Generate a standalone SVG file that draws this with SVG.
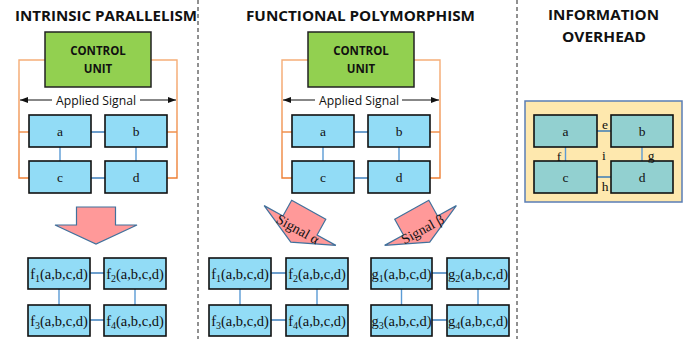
<svg xmlns="http://www.w3.org/2000/svg" width="699" height="339" viewBox="0 0 699 339">
<style>
  .title{font-family:"Open Sans","Liberation Sans",sans-serif;font-weight:700;font-size:15px;fill:#111;text-anchor:middle}
  .cu rect{fill:#92D050;stroke:#222;stroke-width:1.5}
  .cu text{font-family:"Open Sans","Liberation Sans",sans-serif;font-weight:700;font-size:11.5px;fill:#111;text-anchor:middle}
  .node rect{fill:#92DCF6;stroke:#111;stroke-width:1.6}
  .tnode rect{fill:#92D0D0;stroke:#111;stroke-width:1.6}
  .lbl{font-family:"Liberation Serif","Times New Roman",serif;font-size:13.5px;fill:#111;text-anchor:middle}
  .fn{font-family:"Liberation Serif","Times New Roman",serif;font-size:14.5px;fill:#111;text-anchor:middle}
  .sub{font-size:10px}
  .sig{font-family:"Open Sans","Liberation Sans",sans-serif;font-size:12.5px;fill:#111;text-anchor:middle}
  .hc{stroke:#2E75B6;stroke-width:1.4;fill:none}
  .vc{stroke:#5B9BD5;stroke-width:1.4;fill:none}
  .orange{stroke:url(#og);stroke-width:1.4;fill:none}
  .aline{stroke:#111;stroke-width:1;fill:none;marker-end:url(#ah)}
  .dash{stroke:#222;stroke-width:1;stroke-dasharray:4 3}
  .bigarrow use{fill:#FF9999;stroke:#41719C;stroke-width:1.2}
  .sigtxt{font-family:"Liberation Serif","Times New Roman",serif;font-size:14px;fill:#111;text-anchor:middle}
</style>
<defs>
  <linearGradient id="og" gradientUnits="userSpaceOnUse" x1="0" y1="60" x2="0" y2="180">
    <stop offset="0" stop-color="#F5AE78"/>
    <stop offset="1" stop-color="#ED7D31"/>
  </linearGradient>
  <marker id="ah" viewBox="0 0 8 6" refX="8" refY="3" markerWidth="8" markerHeight="6" markerUnits="userSpaceOnUse" orient="auto">
    <path d="M0,0 L8,3 L0,6 Z" fill="#111"/>
  </marker>
  <path id="darrow" d="M-19.5,-18 H19.5 V0 H41 L0,19 L-41,0 H-19.5 Z"/>
</defs>
<rect width="699" height="339" fill="#fff"/>

<!-- separators -->
<line class="dash" x1="198" y1="0" x2="198" y2="339"/>
<line class="dash" x1="517" y1="0" x2="517" y2="339"/>

<!-- titles -->
<text class="title" x="106" y="21" textLength="182" lengthAdjust="spacingAndGlyphs">INTRINSIC PARALLELISM</text>
<text class="title" x="360.5" y="21" textLength="229" lengthAdjust="spacingAndGlyphs">FUNCTIONAL POLYMORPHISM</text>
<text class="title" x="603.5" y="20" textLength="111" lengthAdjust="spacingAndGlyphs">INFORMATION</text>
<text class="title" x="604" y="42" textLength="84" lengthAdjust="spacingAndGlyphs">OVERHEAD</text>

<!-- connectors -->
<g id="connectors">
  <path class="orange" d="M45,60 H19 V178 H29 M19,132 H29 M151,60 H177 V178 H167 M177,132 H167"/>
  <path class="orange" d="M308,60 H282 V178 H292 M282,132 H292 M414,60 H440 V178 H430 M440,132 H430"/>
  <line class="aline" x1="52" y1="100" x2="20" y2="100"/>
  <line class="aline" x1="140" y1="100" x2="176" y2="100"/>
  <line class="aline" x1="315" y1="100" x2="283" y2="100"/>
  <line class="aline" x1="402" y1="100" x2="439" y2="100"/>
  <line class="hc" x1="91" y1="132" x2="105" y2="132"/>
  <line class="hc" x1="91" y1="178" x2="105" y2="178"/>
  <line class="vc" x1="60" y1="147" x2="60" y2="161"/>
  <line class="vc" x1="136" y1="147" x2="136" y2="161"/>
  <line class="hc" x1="354" y1="132" x2="368" y2="132"/>
  <line class="hc" x1="354" y1="178" x2="368" y2="178"/>
  <line class="vc" x1="323" y1="147" x2="323" y2="161"/>
  <line class="vc" x1="399" y1="147" x2="399" y2="161"/>
  <line class="hc" x1="90" y1="273" x2="104" y2="273"/>
  <line class="hc" x1="90" y1="320" x2="104" y2="320"/>
  <line class="vc" x1="59" y1="289" x2="59" y2="305"/>
  <line class="vc" x1="135" y1="289" x2="135" y2="305"/>
  <line class="hc" x1="271" y1="273" x2="286" y2="273"/>
  <line class="hc" x1="271" y1="320" x2="286" y2="320"/>
  <line class="vc" x1="240" y1="289" x2="240" y2="305"/>
  <line class="vc" x1="317" y1="289" x2="317" y2="305"/>
  <line class="hc" x1="432" y1="273" x2="447" y2="273"/>
  <line class="hc" x1="432" y1="320" x2="447" y2="320"/>
  <line class="vc" x1="401.5" y1="289" x2="401.5" y2="305"/>
  <line class="vc" x1="478" y1="289" x2="478" y2="305"/>
</g>

<!-- LEFT PANEL -->
<g id="cu-left" class="cu">
  <rect x="45" y="32" width="106" height="55"/>
  <text x="98" y="55">CONTROL</text>
  <text x="98" y="73">UNIT</text>
</g>
<text class="sig" x="96" y="105" textLength="80" lengthAdjust="spacingAndGlyphs">Applied Signal</text>
<g id="l-a" class="node"><rect x="29" y="115" width="62" height="32"/><text class="lbl" x="60" y="136">a</text></g>
<g id="l-b" class="node"><rect x="105" y="115" width="62" height="32"/><text class="lbl" x="136" y="136">b</text></g>
<g id="l-c" class="node"><rect x="29" y="161" width="62" height="32"/><text class="lbl" x="60" y="182">c</text></g>
<g id="l-d" class="node"><rect x="105" y="161" width="62" height="32"/><text class="lbl" x="136" y="182">d</text></g>

<g id="arrow-down" class="bigarrow"><use href="#darrow" transform="translate(96,225)"/></g>

<g id="l-f1" class="node"><rect x="28" y="258" width="62" height="31"/><text class="fn" x="59" y="279">f<tspan class="sub" dy="3">1</tspan><tspan dy="-3">(a,b,c,d)</tspan></text></g>
<g id="l-f2" class="node"><rect x="104" y="258" width="62" height="31"/><text class="fn" x="135" y="279">f<tspan class="sub" dy="3">2</tspan><tspan dy="-3">(a,b,c,d)</tspan></text></g>
<g id="l-f3" class="node"><rect x="28" y="305" width="62" height="31"/><text class="fn" x="59" y="326">f<tspan class="sub" dy="3">3</tspan><tspan dy="-3">(a,b,c,d)</tspan></text></g>
<g id="l-f4" class="node"><rect x="104" y="305" width="62" height="31"/><text class="fn" x="135" y="326">f<tspan class="sub" dy="3">4</tspan><tspan dy="-3">(a,b,c,d)</tspan></text></g>

<!-- MIDDLE PANEL -->
<g id="cu-mid" class="cu">
  <rect x="308" y="32" width="106" height="55"/>
  <text x="361" y="55">CONTROL</text>
  <text x="361" y="73">UNIT</text>
</g>
<text class="sig" x="359" y="105" textLength="80" lengthAdjust="spacingAndGlyphs">Applied Signal</text>
<g id="m-a" class="node"><rect x="292" y="115" width="62" height="32"/><text class="lbl" x="323" y="136">a</text></g>
<g id="m-b" class="node"><rect x="368" y="115" width="62" height="32"/><text class="lbl" x="399" y="136">b</text></g>
<g id="m-c" class="node"><rect x="292" y="161" width="62" height="32"/><text class="lbl" x="323" y="182">c</text></g>
<g id="m-d" class="node"><rect x="368" y="161" width="62" height="32"/><text class="lbl" x="399" y="182">d</text></g>

<g id="arrow-alpha" class="bigarrow" transform="translate(300,225.5) rotate(29)">
  <use href="#darrow"/>
  <text class="sigtxt" x="0" y="9">Signal α</text>
</g>
<g id="arrow-beta" class="bigarrow" transform="translate(420.5,225.5) rotate(-29)">
  <use href="#darrow"/>
  <text class="sigtxt" x="0" y="9">Signal β</text>
</g>

<g id="m-f1" class="node"><rect x="209" y="258" width="62" height="31"/><text class="fn" x="240" y="279">f<tspan class="sub" dy="3">1</tspan><tspan dy="-3">(a,b,c,d)</tspan></text></g>
<g id="m-f2" class="node"><rect x="286" y="258" width="62" height="31"/><text class="fn" x="317" y="279">f<tspan class="sub" dy="3">2</tspan><tspan dy="-3">(a,b,c,d)</tspan></text></g>
<g id="m-f3" class="node"><rect x="209" y="305" width="62" height="31"/><text class="fn" x="240" y="326">f<tspan class="sub" dy="3">3</tspan><tspan dy="-3">(a,b,c,d)</tspan></text></g>
<g id="m-f4" class="node"><rect x="286" y="305" width="62" height="31"/><text class="fn" x="317" y="326">f<tspan class="sub" dy="3">4</tspan><tspan dy="-3">(a,b,c,d)</tspan></text></g>
<g id="m-g1" class="node"><rect x="371" y="258" width="61" height="31"/><text class="fn" x="401.5" y="279">g<tspan class="sub" dy="3">1</tspan><tspan dy="-3">(a,b,c,d)</tspan></text></g>
<g id="m-g2" class="node"><rect x="447" y="258" width="62" height="31"/><text class="fn" x="478" y="279">g<tspan class="sub" dy="3">2</tspan><tspan dy="-3">(a,b,c,d)</tspan></text></g>
<g id="m-g3" class="node"><rect x="371" y="305" width="61" height="31"/><text class="fn" x="401.5" y="326">g<tspan class="sub" dy="3">3</tspan><tspan dy="-3">(a,b,c,d)</tspan></text></g>
<g id="m-g4" class="node"><rect x="447" y="305" width="62" height="31"/><text class="fn" x="478" y="326">g<tspan class="sub" dy="3">4</tspan><tspan dy="-3">(a,b,c,d)</tspan></text></g>

<!-- RIGHT PANEL -->
<g id="info-frame">
  <rect x="525" y="101" width="157" height="101" fill="#FEE8AE" stroke="#5A7DB5" stroke-width="1.5"/>
</g>
<g id="info-connectors">
  <line class="hc" x1="597" y1="131" x2="611" y2="131"/>
  <line class="hc" x1="597" y1="177" x2="611" y2="177"/>
  <line class="vc" x1="565.5" y1="147" x2="565.5" y2="161"/>
  <line class="vc" x1="642" y1="147" x2="642" y2="161"/>
</g>
<g id="i-a" class="tnode"><rect x="534" y="115" width="63" height="32"/><text class="lbl" x="565.5" y="136">a</text></g>
<g id="i-b" class="tnode"><rect x="611" y="115" width="62" height="32"/><text class="lbl" x="642" y="136">b</text></g>
<g id="i-c" class="tnode"><rect x="534" y="161" width="63" height="32"/><text class="lbl" x="565.5" y="182">c</text></g>
<g id="i-d" class="tnode"><rect x="611" y="161" width="62" height="32"/><text class="lbl" x="642" y="182">d</text></g>
<g id="info-labels">
  <text class="lbl" x="605" y="129">e</text>
  <text class="lbl" x="559" y="161">f</text>
  <text class="lbl" x="604" y="160">i</text>
  <text class="lbl" x="651" y="160">g</text>
  <text class="lbl" x="605" y="191">h</text>
</g>
</svg>
